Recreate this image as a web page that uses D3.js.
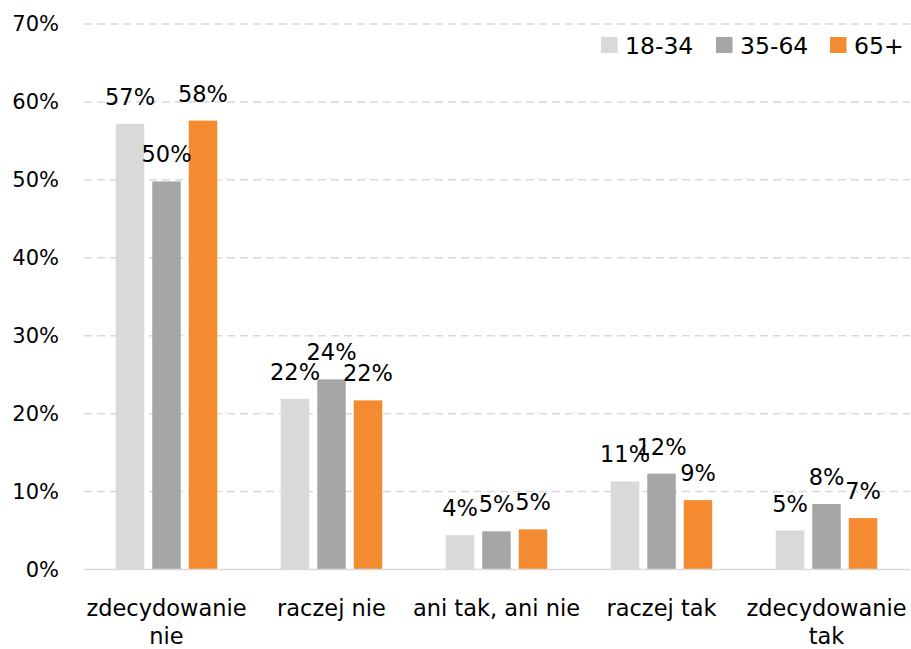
<!DOCTYPE html>
<html>
<head>
<meta charset="utf-8">
<script src="https://cdn.jsdelivr.net/npm/d3@7"></script>
<style>
  body { margin: 0; background: #fff; }
  svg { display: block; font-family: "DejaVu Sans", sans-serif; }
</style>
</head>
<body>
<svg id="chart"></svg>
<script>
// categories on the x axis (multi-line labels)
const categories = ["zdecydowanie nie", "raczej nie", "ani tak, ani nie", "raczej tak", "zdecydowanie tak"];
const categoryLines = [["zdecydowanie", "nie"], ["raczej nie"], ["ani tak, ani nie"], ["raczej tak"], ["zdecydowanie", "tak"]];
const seriesNames = ["18-34", "35-64", "65+"];
const seriesColors = ["#d9d9d9", "#a6a6a6", "#f58b30"];
// values per age group, same order as categories
const values1834 = [0.572, 0.219, 0.044, 0.113, 0.050];
const values3564 = [0.498, 0.244, 0.049, 0.123, 0.084];
const values65 = [0.576, 0.217, 0.0515, 0.089, 0.066];
const yTicks = [0, 0.1, 0.2, 0.3, 0.4, 0.5, 0.6, 0.7];

const width = 911, height = 649;
const marginLeft = 84, marginRight = 2, marginTop = 24, marginBottom = 79.5;

const series = [values1834, values3564, values65];

const svg = d3.select("#chart")
    .attr("width", width)
    .attr("height", height)
    .attr("viewBox", [0, 0, width, height]);

const x0 = d3.scaleBand()
    .domain(categories)
    .range([marginLeft, width - marginRight])
    .paddingInner(0)
    .paddingOuter(0);

const x1 = d3.scaleBand()
    .domain(seriesNames)
    .range([-50.75, 50.75])
    .paddingInner(0.219);

const y = d3.scaleLinear()
    .domain([0, 0.7])
    .range([height - marginBottom, marginTop]);

// gridlines
svg.append("g")
    .selectAll("line")
    .data(yTicks.filter(d => d > 0))
    .join("line")
    .attr("x1", marginLeft)
    .attr("x2", width - 1)
    .attr("y1", d => y(d))
    .attr("y2", d => y(d))
    .attr("stroke", "#d9d9d9")
    .attr("stroke-width", 1.5)
    .attr("stroke-dasharray", "8,5");

// y axis labels
const yAxis = svg.append("g")
    .attr("transform", `translate(${marginLeft},0)`)
    .call(d3.axisLeft(y).tickValues(yTicks).tickFormat(d3.format(".0%")).tickSize(0).tickPadding(25));
yAxis.select(".domain").remove();
yAxis.selectAll("text")
    .attr("font-family", "DejaVu Sans")
    .attr("font-size", 21)
    .attr("fill", "#000");

// bars
const groups = svg.append("g")
    .selectAll("g")
    .data(categories)
    .join("g")
    .attr("transform", d => `translate(${x0(d) + x0.bandwidth() / 2},0)`);

groups.selectAll("rect")
    .data((c, i) => seriesNames.map((s, j) => ({ s, j, v: series[j][i] })))
    .join("rect")
    .attr("x", d => x1(d.s))
    .attr("width", x1.bandwidth())
    .attr("y", d => y(d.v))
    .attr("height", d => y(0) - y(d.v))
    .attr("fill", d => seriesColors[d.j]);

// baseline
svg.append("line")
    .attr("x1", marginLeft)
    .attr("x2", width - 1)
    .attr("y1", y(0))
    .attr("y2", y(0))
    .attr("stroke", "#d9d9d9")
    .attr("stroke-width", 1.5);

// value labels
groups.selectAll("text.val")
    .data((c, i) => seriesNames.map((s, j) => ({ s, j, v: series[j][i] })))
    .join("text")
    .attr("class", "val")
    .attr("x", d => x1(d.s) + x1.bandwidth() / 2)
    .attr("y", d => y(d.v) - 19)
    .attr("text-anchor", "middle")
    .attr("font-size", 22.5)
    .attr("fill", "#000")
    .text(d => d3.format(".0%")(d.v));

// category labels
svg.append("g")
    .selectAll("text")
    .data(categories)
    .join("text")
    .attr("x", d => x0(d) + x0.bandwidth() / 2)
    .attr("y", 616)
    .attr("text-anchor", "middle")
    .attr("font-size", 22.5)
    .attr("fill", "#000")
    .selectAll("tspan")
    .data((d, i) => categoryLines[i])
    .join("tspan")
    .attr("x", function() { return this.parentNode.getAttribute("x"); })
    .attr("dy", (d, i) => i === 0 ? 0 : 28)
    .text(d => d);

// legend
const legendX = [601, 716, 830];
const legend = svg.append("g")
    .selectAll("g")
    .data(seriesNames)
    .join("g")
    .attr("transform", (d, i) => `translate(${legendX[i]},37)`);
legend.append("rect")
    .attr("width", 16.5)
    .attr("height", 16)
    .attr("fill", (d, i) => seriesColors[i]);
legend.append("text")
    .attr("x", 24)
    .attr("y", 16.5)
    .attr("font-size", 23.5)
    .attr("fill", "#000")
    .text(d => d);
</script>
</body>
</html>
